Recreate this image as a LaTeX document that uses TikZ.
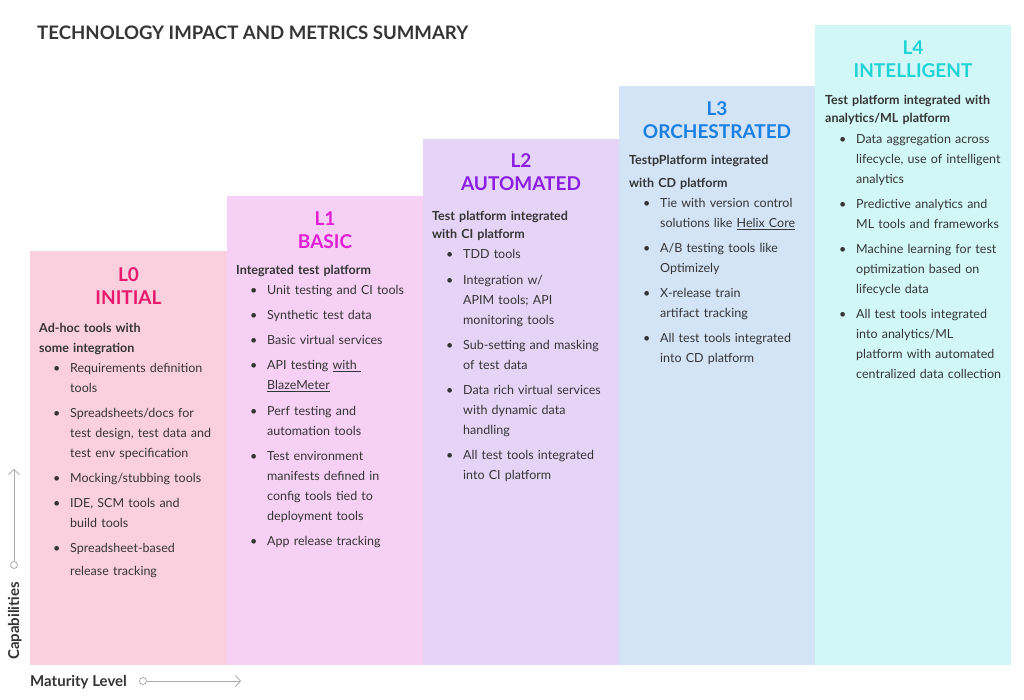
\documentclass[tikz,border=0pt]{standalone}
\usepackage{fontspec}
\setmainfont{Lato}
\usetikzlibrary{arrows.meta}

\definecolor{inkgray}{HTML}{353535}
\definecolor{axisgray}{HTML}{ABABAB}
\definecolor{zerobg}{HTML}{FAD0DF}
\definecolor{zerofg}{HTML}{E8196C}
\definecolor{onebg}{HTML}{F7D0F5}
\definecolor{onefg}{HTML}{E01FD4}
\definecolor{twobg}{HTML}{E6D4F7}
\definecolor{twofg}{HTML}{8B1EE4}
\definecolor{threebg}{HTML}{D3E4F7}
\definecolor{threefg}{HTML}{1A7FE3}
\definecolor{fourbg}{HTML}{D2F7F7}
\definecolor{fourfg}{HTML}{22D3D6}

\newcommand{\lvbul}{\makebox[31pt][l]{\hspace{14pt}\textbullet}}
\newcommand{\lvind}{\hspace*{31pt}}

\begin{document}
\begin{tikzpicture}[x=1pt, y=-1pt]
	\tikzstyle{levelTitle}=[anchor = base, text width = 190pt, align = center, inner sep = 0pt, font = \fontsize{19}{23}\selectfont\bfseries]
	\tikzstyle{levelBody}=[anchor = base west, text width = 185pt, align = left, inner sep = 0pt, text = inkgray, font = \fontsize{12.5}{20}\selectfont]
	\tikzstyle{axisLabel}=[inner sep = 0pt, text = inkgray, font = \fontsize{15}{18}\selectfont\bfseries]
	\tikzstyle{axisDot}=[shape = circle, draw = axisgray, line width = 0.8pt, minimum size = 7pt, inner sep = 0pt]
	\tikzstyle{axisLine}=[draw = axisgray, line width = 0.8pt, -{Straight Barb[length = 5pt, width = 11pt]}]
	\useasboundingbox (0,0) rectangle (1024,700);
	\fill[white] (0,0) rectangle (1024,700);
	% steps
	\fill[zerobg] (30,251) rectangle (227,665);
	\fill[onebg] (227,196) rectangle (423,665);
	\fill[twobg] (423,139) rectangle (619,665);
	\fill[threebg] (619,86) rectangle (815,665);
	\fill[fourbg] (815,25) rectangle (1011,665);
	\node[anchor = base west, inner sep = 0pt, text = inkgray, font = \fontsize{18.6}{22}\selectfont\bfseries] (head) at (37,39.5) {TECHNOLOGY IMPACT AND METRICS SUMMARY};
	% titles
	\node[levelTitle, text = zerofg] (t0) at (128.5,281) {L0\\INITIAL};
	\node[levelTitle, text = onefg] (t1) at (325,226) {L1\\BASIC};
	\node[levelTitle, text = twofg] (t2) at (521,168) {L2\\AUTOMATED};
	\node[levelTitle, text = threefg] (t3) at (717,116) {L3\\ORCHESTRATED};
	\node[levelTitle, text = fourfg] (t4) at (913,55) {L4\\INTELLIGENT};
	% bodies
	\node[levelBody] (b0) at (39,332) {\textbf{Ad-hoc tools with}\\
		\textbf{some integration}\\
		\lvbul Requirements definition\\
		\lvind tools\\[5pt]
		\lvbul Spreadsheets/docs for\\
		\lvind test design, test data and\\
		\lvind test env specification\\[5pt]
		\lvbul Mocking/stubbing tools\\[5pt]
		\lvbul IDE, SCM tools and\\
		\lvind build tools\\[5pt]
		\lvbul Spreadsheet-based\\[3pt]
		\lvind release tracking};
	\node[levelBody] (b1) at (236,275) {\textbf{Integrated test platform}\\
		\lvbul Unit testing and CI tools\\[5pt]
		\lvbul Synthetic test data\\[5pt]
		\lvbul Basic virtual services\\[5pt]
		\lvbul API testing \underline{with\ }\\
		\lvind \underline{BlazeMeter}\\[5pt]
		\lvbul Perf testing and\\
		\lvind automation tools\\[5pt]
		\lvbul Test environment\\
		\lvind manifests defined in\\
		\lvind config tools tied to\\
		\lvind deployment tools\\[5pt]
		\lvbul App release tracking};
	\node[levelBody] (b2) at (432,221) {\textbf{Test platform integrated}\\[-2pt]
		\textbf{with CI platform}\\
		\lvbul TDD tools\\[6pt]
		\lvbul Integration w/\\
		\lvind APIM tools; API\\
		\lvind monitoring tools\\[5pt]
		\lvbul Sub-setting and masking\\
		\lvind of test data\\[5pt]
		\lvbul Data rich virtual services\\
		\lvind with dynamic data\\
		\lvind handling\\[5pt]
		\lvbul All test tools integrated\\
		\lvind into CI platform};
	\node[levelBody] (b3) at (629,165) {\textbf{TestpPlatform integrated}\\[3pt]
		\textbf{with CD platform}\\
		\lvbul Tie with version control\\
		\lvind solutions like \underline{Helix Core}\\[5pt]
		\lvbul A/B testing tools like\\
		\lvind Optimizely\\[5pt]
		\lvbul X-release train\\
		\lvind artifact tracking\\[5pt]
		\lvbul All test tools integrated\\
		\lvind into CD platform};
	\node[levelBody] (b4) at (825,105) {\textbf{Test platform integrated with}\\[-2pt]
		\textbf{analytics/ML platform}\\[1pt]
		\lvbul Data aggregation across\\
		\lvind lifecycle, use of intelligent\\
		\lvind analytics\\[5pt]
		\lvbul Predictive analytics and\\
		\lvind ML tools and frameworks\\[5pt]
		\lvbul Machine learning for test\\
		\lvind optimization based on\\
		\lvind lifecycle data\\[5pt]
		\lvbul All test tools integrated\\
		\lvind into analytics/ML\\
		\lvind platform with automated\\
		\lvind centralized data collection};
	% axes
	\node[axisLabel, rotate = 90, anchor = base west] (cap) at (19,660) {Capabilities};
	\node[axisLabel, anchor = base west] (mat) at (30,686) {Maturity Level};
	\node[axisDot] (capdot) at (14,565) {};
	\coordinate (captip) at (14,469);
	\node[axisDot] (matdot) at (143,681) {};
	\coordinate (mattip) at (241,681);
	\draw[axisLine] (capdot) -- (captip);
	\draw[axisLine] (matdot) -- (mattip);
\end{tikzpicture}
\end{document}
